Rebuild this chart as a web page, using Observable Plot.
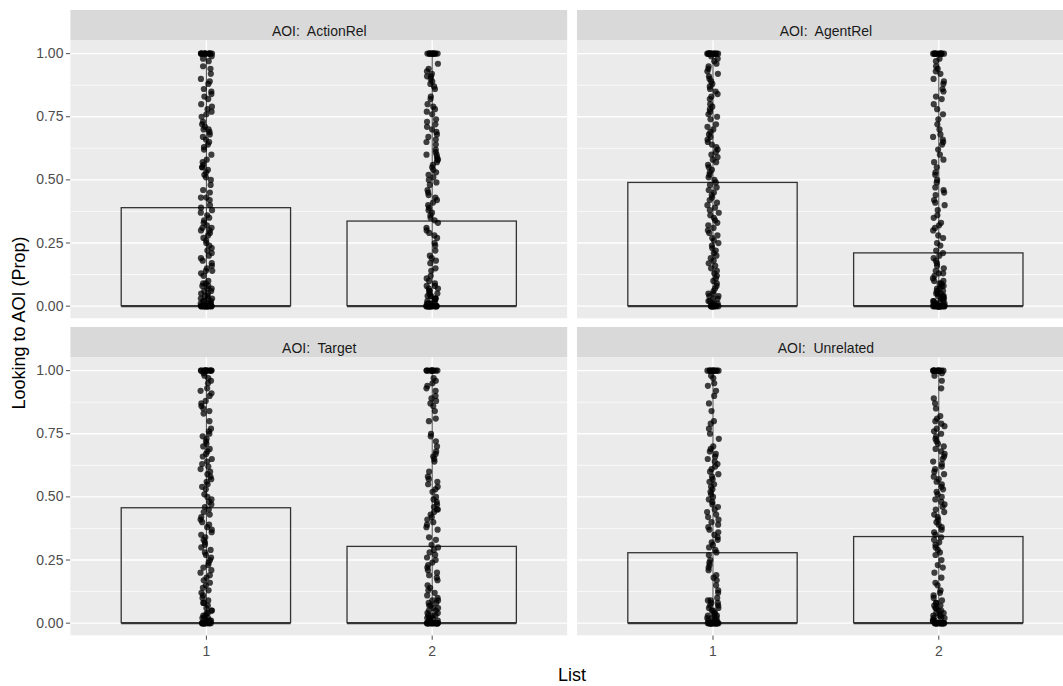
<!DOCTYPE html>
<html><head><meta charset="utf-8">
<script src="https://cdn.jsdelivr.net/npm/d3@7"></script>
<script src="https://cdn.jsdelivr.net/npm/@observablehq/plot@0.6"></script>
<style>
html,body{margin:0;padding:0;background:#fff;overflow:hidden;}
#chart{position:relative;width:1063px;height:686px;overflow:hidden;font-family:"Liberation Sans",Arial,sans-serif;}
#chart svg{position:absolute;}
.ttl{position:absolute;color:#000;font-size:18px;white-space:nowrap;line-height:1;z-index:5;}
</style></head><body><div id="chart"></div>
<script>
// ---------- data ----------
const aoiNames = ["ActionRel", "AgentRel", "Target", "Unrelated"];
const listIds = [1, 2];
const meanActionRel = [0.388, 0.335];
const meanAgentRel = [0.488, 0.209];
const meanTarget = [0.455, 0.302];
const meanUnrelated = [0.277, 0.341];
const yTicks = [0, 0.25, 0.5, 0.75, 1];
const yMinorTicks = [0.125, 0.375, 0.625, 0.875];

const ptsActionRel1 = [1,1,1,1,1,1,1,1,1,1,1,1,1,0.99,0.98,0.97,0.95,0.94,0.92,0.9,0.89,0.88,0.86,0.85,0.84,0.83,0.82,0.8,0.79,0.78,0.77,0.76,0.75,0.73,0.72,0.71,0.7,0.7,0.69,0.68,0.67,0.66,0.65,0.64,0.63,0.62,0.6,0.58,0.57,0.56,0.55,0.55,0.54,0.53,0.52,0.51,0.5,0.48,0.46,0.45,0.43,0.43,0.42,0.4,0.39,0.38,0.37,0.36,0.35,0.34,0.33,0.32,0.31,0.31,0.3,0.3,0.29,0.28,0.27,0.26,0.25,0.24,0.23,0.22,0.21,0.2,0.19,0.18,0.17,0.16,0.15,0.14,0.14,0.13,0.12,0.1,0.09,0.09,0.08,0.08,0.07,0.07,0.06,0.06,0.05,0.05,0.04,0.04,0.03,0.03,0.03,0.02,0.02,0.02,0.01,0.01,0.01,0.01,0,0,0,0,0,0,0,0,0,0,0,0,0,0,0,0,0];
const ptsActionRel2 = [1,1,1,1,1,1,1,1,1,1,1,1,0.96,0.94,0.93,0.92,0.91,0.91,0.9,0.89,0.88,0.87,0.86,0.83,0.82,0.8,0.79,0.78,0.77,0.76,0.74,0.73,0.72,0.71,0.7,0.69,0.68,0.67,0.66,0.65,0.64,0.62,0.61,0.6,0.6,0.59,0.58,0.58,0.57,0.56,0.55,0.54,0.53,0.52,0.51,0.5,0.49,0.48,0.46,0.45,0.44,0.43,0.42,0.41,0.4,0.39,0.38,0.37,0.36,0.35,0.34,0.33,0.31,0.3,0.29,0.28,0.27,0.25,0.24,0.22,0.2,0.19,0.18,0.17,0.15,0.14,0.12,0.11,0.1,0.09,0.08,0.08,0.07,0.07,0.06,0.06,0.05,0.05,0.04,0.04,0.04,0.03,0.03,0.03,0.02,0.02,0.02,0.01,0.01,0.01,0.01,0,0,0,0,0,0,0,0,0,0,0,0,0,0,0,0,0,0,0];
const ptsAgentRel1 = [1,1,1,1,1,1,1,1,1,1,1,1,1,0.99,0.98,0.97,0.96,0.95,0.94,0.93,0.92,0.91,0.9,0.89,0.88,0.87,0.86,0.85,0.84,0.83,0.82,0.8,0.79,0.78,0.77,0.76,0.75,0.74,0.72,0.71,0.7,0.69,0.68,0.67,0.66,0.65,0.64,0.63,0.62,0.61,0.6,0.59,0.58,0.57,0.56,0.55,0.54,0.53,0.52,0.51,0.5,0.49,0.48,0.47,0.46,0.45,0.44,0.43,0.42,0.41,0.4,0.39,0.38,0.37,0.36,0.35,0.34,0.33,0.32,0.31,0.3,0.29,0.28,0.27,0.26,0.25,0.24,0.23,0.22,0.21,0.2,0.19,0.18,0.17,0.16,0.15,0.14,0.13,0.12,0.11,0.1,0.09,0.08,0.07,0.06,0.05,0.05,0.04,0.04,0.03,0.03,0.02,0.02,0.01,0.01,0.01,0,0,0,0,0,0,0,0,0,0,0,0];
const ptsAgentRel2 = [1,1,1,1,1,1,1,1,1,1,1,0.98,0.97,0.95,0.94,0.93,0.92,0.9,0.89,0.88,0.86,0.85,0.83,0.82,0.8,0.78,0.76,0.74,0.72,0.7,0.68,0.67,0.66,0.65,0.64,0.62,0.6,0.58,0.57,0.55,0.53,0.52,0.5,0.49,0.47,0.46,0.45,0.44,0.42,0.41,0.4,0.38,0.36,0.35,0.33,0.32,0.31,0.3,0.28,0.27,0.25,0.24,0.22,0.21,0.2,0.19,0.18,0.17,0.16,0.15,0.14,0.13,0.13,0.12,0.11,0.1,0.1,0.09,0.09,0.08,0.08,0.07,0.07,0.06,0.06,0.05,0.05,0.05,0.04,0.04,0.04,0.03,0.03,0.03,0.02,0.02,0.02,0.02,0.01,0.01,0.01,0.01,0,0,0,0,0,0,0,0,0,0,0,0,0,0,0,0,0,0,0,0,0,0];
const ptsTarget1 = [1,1,1,1,1,1,1,1,1,1,1,1,1,0.99,0.98,0.97,0.96,0.95,0.93,0.92,0.91,0.9,0.88,0.87,0.86,0.85,0.84,0.83,0.8,0.77,0.76,0.75,0.74,0.73,0.72,0.71,0.7,0.69,0.68,0.67,0.66,0.65,0.64,0.63,0.62,0.61,0.6,0.59,0.58,0.57,0.56,0.55,0.54,0.53,0.51,0.5,0.49,0.48,0.47,0.46,0.45,0.44,0.43,0.42,0.41,0.4,0.39,0.38,0.37,0.36,0.35,0.34,0.33,0.32,0.31,0.3,0.29,0.28,0.27,0.26,0.25,0.24,0.23,0.22,0.21,0.2,0.19,0.18,0.17,0.16,0.15,0.14,0.13,0.12,0.11,0.1,0.09,0.08,0.08,0.07,0.06,0.05,0.05,0.04,0.04,0.03,0.03,0.02,0.02,0.02,0.01,0.01,0.01,0,0,0,0,0,0,0,0,0,0,0,0,0];
const ptsTarget2 = [1,1,1,1,1,1,1,1,1,1,1,0.97,0.96,0.95,0.94,0.93,0.92,0.9,0.89,0.88,0.87,0.86,0.84,0.81,0.8,0.75,0.74,0.72,0.7,0.68,0.67,0.66,0.65,0.64,0.6,0.58,0.57,0.56,0.55,0.54,0.53,0.52,0.5,0.49,0.48,0.47,0.46,0.45,0.45,0.44,0.43,0.42,0.41,0.4,0.39,0.38,0.37,0.34,0.33,0.31,0.3,0.29,0.28,0.27,0.26,0.25,0.24,0.23,0.22,0.21,0.2,0.19,0.18,0.17,0.15,0.14,0.13,0.12,0.11,0.1,0.09,0.09,0.08,0.08,0.07,0.07,0.06,0.06,0.05,0.05,0.04,0.04,0.03,0.03,0.03,0.02,0.02,0.02,0.01,0.01,0.01,0.01,0,0,0,0,0,0,0,0,0,0,0,0,0,0,0,0,0,0,0];
const ptsUnrelated1 = [1,1,1,1,1,1,1,1,1,1,1,0.98,0.97,0.95,0.94,0.92,0.9,0.87,0.84,0.8,0.79,0.77,0.75,0.73,0.7,0.69,0.68,0.67,0.66,0.65,0.64,0.63,0.62,0.61,0.6,0.59,0.58,0.57,0.56,0.55,0.54,0.53,0.52,0.51,0.5,0.49,0.48,0.47,0.46,0.45,0.44,0.43,0.42,0.41,0.4,0.39,0.38,0.37,0.36,0.35,0.34,0.33,0.32,0.31,0.3,0.29,0.28,0.27,0.25,0.24,0.23,0.22,0.21,0.19,0.18,0.17,0.15,0.13,0.12,0.1,0.09,0.09,0.08,0.08,0.07,0.07,0.06,0.06,0.05,0.05,0.04,0.04,0.03,0.03,0.03,0.02,0.02,0.02,0.01,0.01,0.01,0,0,0,0,0,0,0,0,0,0,0,0,0,0,0,0,0,0,0,0,0,0];
const ptsUnrelated2 = [1,1,1,1,1,1,1,1,1,1,1,0.99,0.98,0.96,0.93,0.89,0.87,0.85,0.82,0.81,0.8,0.79,0.78,0.77,0.76,0.75,0.74,0.73,0.72,0.71,0.7,0.69,0.68,0.67,0.66,0.65,0.64,0.63,0.62,0.61,0.6,0.59,0.58,0.57,0.56,0.55,0.54,0.53,0.52,0.51,0.5,0.49,0.48,0.47,0.46,0.45,0.44,0.43,0.42,0.41,0.4,0.39,0.38,0.37,0.36,0.35,0.34,0.33,0.32,0.31,0.3,0.29,0.28,0.27,0.25,0.23,0.22,0.2,0.18,0.16,0.15,0.13,0.12,0.11,0.1,0.09,0.08,0.08,0.07,0.07,0.06,0.06,0.05,0.05,0.04,0.04,0.03,0.03,0.03,0.02,0.02,0.02,0.01,0.01,0.01,0,0,0,0,0,0,0,0,0,0,0,0,0,0,0,0,0,0];

const meansByPanel = [meanActionRel, meanAgentRel, meanTarget, meanUnrelated];
const pointsByPanel = [[ptsActionRel1, ptsActionRel2],[ptsAgentRel1, ptsAgentRel2],[ptsTarget1, ptsTarget2],[ptsUnrelated1, ptsUnrelated2]];

// ---------- layout ----------
const colLeft = [70.4, 577];
const panelW = 496.8;
const rowTop = [9.5, 326.8];
const stripPx = 30.5, panelPx = 277.8, bottomMargin = 50.5;
const pxPerUnit = panelPx / 1.1;
const stripU = stripPx / pxPerUnit;
const barHalf = 0.375;
// horizontal jitter only (like geom_jitter), seeded so the picture is reproducible
const jitter = d3.randomUniform.source(d3.randomLcg(0.4242))(-0.026, 0.026);

const chart = document.getElementById("chart");

aoiNames.forEach((aoi, i) => {
  const col = i % 2, row = Math.floor(i / 2);
  const bars = listIds.map((l, j) => ({list: l, mean: meansByPanel[i][j]}));
  const pts = [];
  listIds.forEach((l, j) => pointsByPanel[i][j].forEach(v => pts.push({list: l, value: v, jit: jitter()})));
  const mLeft = col === 0 ? colLeft[0] : 0;
  const mBottom = row === 1 ? bottomMargin : 0;
  const svg = Plot.plot({
    width: mLeft + panelW,
    height: stripPx + panelPx + mBottom,
    marginLeft: mLeft, marginRight: 0, marginTop: 0, marginBottom: mBottom,
    style: {fontFamily: '"Liberation Sans", Arial, sans-serif', fontSize: "14px", color: "#4D4D4D", background: "transparent", maxWidth: "none", overflow: "visible"},
    x: {domain: [0.4, 2.6], ticks: listIds, tickFormat: "d", tickSize: 4.5, tickPadding: 6, label: null, axis: row === 1 ? "bottom" : null},
    y: {domain: [-0.05, 1.05 + stripU], ticks: yTicks, tickFormat: ".2f", tickSize: 4.5, tickPadding: 3, label: null, axis: col === 0 ? "left" : null},
    marks: [
      Plot.rect([0], {y1: 1.05, y2: 1.05 + stripU, fill: "#D9D9D9"}),
      Plot.rect([0], {y1: -0.05, y2: 1.05, fill: "#EBEBEB"}),
      Plot.ruleY(yMinorTicks, {stroke: "#fff", strokeWidth: 0.7}),
      Plot.ruleY(yTicks, {stroke: "#fff", strokeWidth: 1.4}),
      Plot.ruleX(listIds, {x: d => d, y1: -0.05, y2: 1.05, stroke: "#fff", strokeWidth: 1.4}),
      Plot.rect(bars, {x1: d => d.list - barHalf, x2: d => d.list + barHalf, y1: 0, y2: "mean", fill: "none", stroke: "#333", strokeWidth: 1.3}),
      Plot.ruleY(bars, {y: 0, x1: d => d.list - barHalf, x2: d => d.list + barHalf, stroke: "#333", strokeWidth: 2.4}),
      Plot.ruleX(listIds, {x: d => d, y1: 0, y2: 1, stroke: "#333", strokeWidth: 0.9}),
      Plot.dot(pts, {x: d => d.list + d.jit, y: "value", r: 3.1, fill: "#000", fillOpacity: 0.74, stroke: "none"}),
      Plot.text([`AOI:\u00a0 ${aoi}`], {frameAnchor: "top", dy: stripPx / 2, text: d => d, fill: "#1A1A1A", fontSize: 14})
    ]
  });
  svg.style.left = (col === 0 ? 0 : colLeft[1]) + "px";
  svg.style.top = rowTop[row] + "px";
  chart.appendChild(svg);
});

const yTitle = document.createElement("div");
yTitle.className = "ttl";
yTitle.textContent = "Looking to AOI (Prop)";
chart.appendChild(yTitle);
(function placeY(){
  const w = yTitle.offsetWidth, h = yTitle.offsetHeight;
  yTitle.style.left = (9 + h / 2 - w / 2) + "px";
  yTitle.style.top = (323 - h / 2) + "px";
  yTitle.style.transform = "rotate(-90deg)";
})();

const xTitle = document.createElement("div");
xTitle.className = "ttl";
xTitle.textContent = "List";
xTitle.style.left = "572px";
xTitle.style.top = "666px";
xTitle.style.transform = "translate(-50%,0)";
chart.appendChild(xTitle);
</script></body></html>
